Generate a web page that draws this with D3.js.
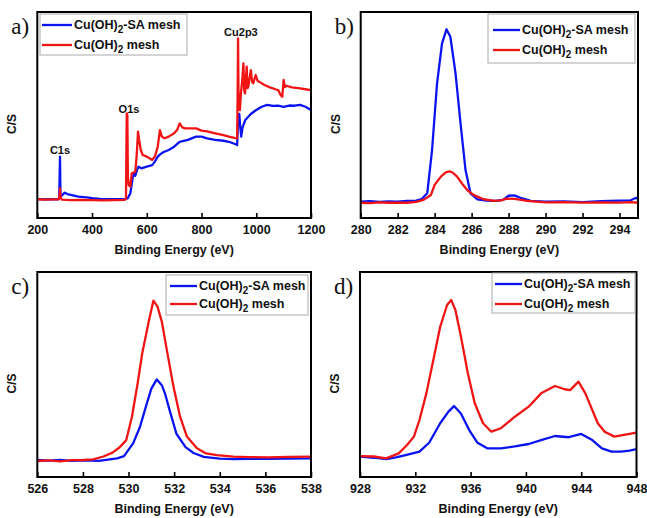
<!DOCTYPE html>
<html>
<head>
<meta charset="utf-8">
<script src="https://cdn.jsdelivr.net/npm/d3@7"></script>
<style>
  body { margin: 0; background: #fff; }
  text { font-family: "Liberation Sans", Arial, sans-serif; font-weight: bold; fill: #111; }
  .letter { font-family: "Liberation Serif", "Times New Roman", serif; font-weight: normal; }
</style>
</head>
<body>
<svg id="chart" width="647" height="518"></svg>
<script>
// ---- data (energy in eV, intensity in arbitrary C/S units 0-100) ----
const seriesNames = ["Cu(OH)", "-SA mesh", " mesh"];

const surveyTicks = [200, 400, 600, 800, 1000, 1200];
const c1sTicks = [280, 282, 284, 286, 288, 290, 292, 294];
const o1sTicks = [526, 528, 530, 532, 534, 536, 538];
const cu2pTicks = [928, 932, 936, 940, 944, 948];

const peakLabels = ["C1s", "O1s", "Cu2p3"];
const peakEnergy = [283, 535, 944];
const peakLevel = [31, 51, 88.5];

const surveySA = [[200,9.3],[220,9.0],[240,9.2],[260,9.0],[275,9.1],[280,9.3],[281.5,20],[283,29.8],[284.5,12],[286,10.4],[290,11.0],[300,12.3],[310,11.6],[330,11.0],[350,10.4],[380,10.0],[400,9.6],[430,9.3],[460,9.2],[490,9.1],[520,9.1],[530,9.5],[540,12.0],[548,19],[552,21.7],[558,20.5],[565,23.5],[570,24.9],[580,24.1],[600,24.9],[620,25.7],[630,27.5],[640,29.8],[650,31],[660,31.9],[680,33],[700,34.6],[720,37],[750,37.9],[780,39.5],[800,39.5],[820,38.7],[850,37.9],[880,37.5],[900,37.0],[925,35.8],[930,35.4],[933,45],[936,49.2],[938,50.5],[941,45],[945,39.5],[950,44],[960,47.6],[970,49],[980,50.5],[1000,52.4],[1020,54.0],[1040,54.9],[1060,54.4],[1080,54.5],[1100,54.0],[1120,54.6],[1140,54.5],[1160,54.9],[1180,54.0],[1200,52.4]];
const surveyMesh = [[200,9.1],[230,8.9],[260,9.0],[278,9.0],[281,11],[283,14.4],[285,10],[290,8.9],[320,8.7],[360,8.8],[400,8.7],[440,8.6],[480,8.7],[520,8.8],[524,9.5],[526,40],[527,50.8],[529,50],[531,20],[534,15.9],[540,15.2],[545,21.7],[552,22.1],[558,22.5],[563,30],[568,41.9],[572,38],[578,33],[585,30.6],[600,29.8],[620,28.2],[630,30],[640,34.6],[648,42.7],[655,39.5],[665,38.7],[680,39.5],[700,41.1],[712,43],[720,45.9],[730,44],[740,43.5],[760,43.5],[780,43.5],[800,42.4],[820,42],[850,41.1],[880,40.2],[900,39.5],[920,38.9],[930,38.7],[932,60],[933.5,87.2],[935,62],[937,57.3],[940,52.4],[945,62],[949,67],[953,75.1],[956,62],[959,60.5],[965,73.5],[968,63],[971,63.8],[980,71.8],[985,66],[989,65.4],[998,69.4],[1005,66.5],[1010,66.2],[1030,64.6],[1050,63.4],[1070,62.5],[1080,62.1],[1090,59.5],[1095,58.9],[1100,67],[1105,63.5],[1110,64.2],[1130,63.4],[1160,62.9],[1180,62.5],[1200,62.1]];

const c1sSA = [[280,7.9],[280.5,8.2],[281,7.8],[281.5,8.1],[282,7.9],[282.5,8.3],[283,8.4],[283.3,9.2],[283.6,12.0],[283.86,33.0],[284.13,65.4],[284.4,84.8],[284.64,91.6],[284.85,88.0],[285.13,70.2],[285.4,46.0],[285.67,23.3],[285.94,12.0],[286.3,9.1],[286.8,8.5],[287.3,8.3],[287.7,8.8],[288,10.8],[288.3,11.0],[288.7,9.6],[289.2,8.3],[290,7.9],[291,8.0],[292,7.7],[293,8.2],[294,8.4],[294.6,8.6],[294.9,9.8],[295,9.2]];
const c1sMesh = [[280,7.4],[280.5,7.2],[281,7.6],[281.5,7.4],[282,7.5],[282.5,7.4],[283,7.8],[283.4,8.8],[283.8,11.2],[284.0,16.1],[284.35,20.2],[284.6,22.1],[284.8,22.6],[284.97,22.1],[285.2,20.2],[285.5,16.5],[285.76,13.6],[286.1,11.2],[286.65,9.1],[287.2,8.3],[287.6,8.6],[287.9,9.4],[288.3,9.3],[288.6,8.9],[289,8.3],[290,7.6],[291,7.7],[292,7.5],[293,7.6],[294,7.5],[294.6,7.7],[295,7.4]];

const o1sSA = [[526,8.3],[526.5,8.0],[527,8.4],[527.5,7.9],[528,8.1],[528.7,7.9],[529.5,9.1],[529.8,10.2],[530.2,16.4],[530.5,24.4],[530.8,35.8],[531.0,43.1],[531.24,47.6],[531.46,44.8],[531.6,40.7],[531.8,32.6],[532.1,21.1],[532.5,14.6],[532.85,11.7],[533.3,9.8],[534,9.0],[534.6,8.7],[535.3,8.9],[536.1,8.8],[537,9.0],[538,9.1]];
const o1sMesh = [[526,7.8],[526.5,8.1],[527,7.6],[527.5,8.2],[528,8.3],[528.45,8.6],[528.9,10.0],[529.3,11.9],[529.6,14.4],[529.9,18.0],[530.15,29.4],[530.4,45.7],[530.6,60.3],[530.9,76.6],[531.09,86.0],[531.27,83.1],[531.46,75.8],[531.68,61.9],[531.97,44.1],[532.26,29.4],[532.56,19.7],[533.0,14.0],[533.4,11.5],[533.87,10.7],[534.6,9.9],[535.3,9.7],[536.1,9.6],[537,9.8],[538,9.9]];

const cu2pSA = [[928,9.9],[929,9.4],[929.9,8.7],[930.6,9.6],[931.3,10.7],[932.3,12.4],[933.0,16.7],[933.8,26.2],[934.4,31.9],[934.8,34.6],[935.3,31.0],[935.9,22.9],[936.5,16.7],[937.2,14.0],[938.2,14.0],[939.2,14.9],[940.2,16.1],[941.1,18.0],[942.1,20.0],[943.1,19.4],[944.0,21.0],[944.8,18.0],[945.5,14.0],[946.2,12.4],[946.9,12.4],[947.5,12.9],[948,13.6]];
const cu2pMesh = [[928,10.2],[929,10.0],[929.9,9.1],[930.8,11.5],[931.4,15.6],[931.9,19.7],[932.3,27.8],[932.8,40.8],[933.3,57.0],[933.8,73.3],[934.3,83.9],[934.6,86.3],[934.9,81.5],[935.3,68.5],[935.8,50.6],[936.3,36.0],[936.9,26.2],[937.5,22.1],[938.2,23.8],[939.2,29.4],[940.2,34.3],[941.1,40.8],[942.1,44.4],[942.8,42.8],[943.2,42.4],[943.8,46.5],[944.3,40.8],[944.8,32.7],[945.2,26.2],[945.7,22.1],[946.4,19.7],[947.1,20.5],[948,21.6]];

const blue = "#0a14f0";
const red = "#f01414";

const panels = [
  { letter: "a)", left: 37.3, right: 311, top: 12, bottom: 218, domain: [200, 1200], ticks: surveyTicks,
    sa: surveySA, mesh: surveyMesh, legend: { x: 40, y: 14, w: 147, h: 41, lx: 42, lw: 30, gap: 20 } },
  { letter: "b)", left: 360.7, right: 638, top: 12, bottom: 218, domain: [280, 295], ticks: c1sTicks,
    sa: c1sSA, mesh: c1sMesh, legend: { x: 488, y: 14, w: 147, h: 49, lx: 493, lw: 27, gap: 20, pad: 16 } },
  { letter: "c)", left: 37.3, right: 311, top: 272, bottom: 477, domain: [526, 538], ticks: o1sTicks,
    sa: o1sSA, mesh: o1sMesh, legend: { x: 166, y: 275, w: 142, h: 40, lx: 170, lw: 27, gap: 18 } },
  { letter: "d)", left: 360, right: 636.5, top: 272, bottom: 477, domain: [928, 948], ticks: cu2pTicks,
    sa: cu2pSA, mesh: cu2pMesh, legend: { x: 492, y: 273, w: 143, h: 40, lx: 495, lw: 27, gap: 20 } }
];

const svg = d3.select("#chart");

panels.forEach((p, i) => {
  const x = d3.scaleLinear().domain(p.domain).range([p.left, p.right]);
  const y = d3.scaleLinear().domain([0, 100]).range([p.bottom, p.top]);
  const g = svg.append("g");

  const clipId = "clip" + i;
  g.append("clipPath").attr("id", clipId)
    .append("rect")
    .attr("x", p.left).attr("y", p.top)
    .attr("width", p.right - p.left).attr("height", p.bottom - p.top);

  const line = d3.line().x(d => x(d[0])).y(d => y(d[1]));

  // Draw spectra (blue first, red on top)
  [[p.sa, blue], [p.mesh, red]].forEach(([data, color]) => {
    g.append("path")
      .datum(data)
      .attr("clip-path", `url(#${clipId})`)
      .attr("d", line)
      .attr("fill", "none")
      .attr("stroke", color)
      .attr("stroke-width", 2.3)
      .attr("stroke-linejoin", "round");
  });

  // Bottom axis with inward ticks
  const axis = g.append("g")
    .attr("transform", `translate(0,${p.bottom})`)
    .call(d3.axisBottom(x).tickValues(p.ticks).tickFormat(d3.format("d"))
      .tickSizeInner(-5).tickSizeOuter(0).tickPadding(7));
  axis.select(".domain").remove();
  axis.selectAll(".tick line").attr("stroke", "#000").attr("stroke-width", 1.6);
  axis.selectAll(".tick text")
    .style("font-family", '"Liberation Sans", Arial, sans-serif')
    .style("font-weight", "bold")
    .style("font-size", "12.5px")
    .attr("fill", "#111");

  // Frame
  g.append("rect")
    .attr("x", p.left).attr("y", p.top)
    .attr("width", p.right - p.left).attr("height", p.bottom - p.top)
    .attr("fill", "none").attr("stroke", "#000").attr("stroke-width", 2);

  // Axis titles
  g.append("text")
    .attr("x", (p.left + p.right) / 2).attr("y", p.bottom + 36)
    .attr("text-anchor", "middle").style("font-size", "12.5px")
    .text("Binding Energy (eV)");

  g.append("text")
    .attr("transform", `translate(${p.left - 21},${(p.top + p.bottom) / 2 + 9}) rotate(-90)`)
    .attr("text-anchor", "middle").style("font-size", "12px")
    .text("C/S");

  // Panel letter
  g.append("text")
    .attr("class", "letter")
    .attr("x", p.left - 26).attr("y", p.top + 22)
    .style("font-size", "23px")
    .text(p.letter);

  // Legend
  const L = p.legend;
  const lg = g.append("g");
  lg.append("rect")
    .attr("x", L.x).attr("y", L.y).attr("width", L.w).attr("height", L.h)
    .attr("fill", "#fff").attr("stroke", "#aaa").attr("stroke-width", 1);
  const firstY = L.y + (L.pad || 11);
  [[blue, "-SA mesh"], [red, " mesh"]].forEach(([color, tail], k) => {
    const ly = firstY + k * L.gap;
    lg.append("line")
      .attr("x1", L.lx).attr("x2", L.lx + L.lw)
      .attr("y1", ly).attr("y2", ly)
      .attr("stroke", color).attr("stroke-width", 2.3);
    const t = lg.append("text")
      .attr("x", L.lx + L.lw + 2).attr("y", ly + 4)
      .style("font-size", "12.5px");
    t.append("tspan").text(seriesNames[0]);
    t.append("tspan").attr("dy", 4).style("font-size", "10px").text("2");
    t.append("tspan").attr("dy", -4).text(tail);
  });

  // Peak labels on the survey
  if (i === 0) {
    peakLabels.forEach((lab, k) => {
      g.append("text")
        .attr("x", x(peakEnergy[k])).attr("y", y(peakLevel[k]))
        .attr("text-anchor", "middle").style("font-size", "11px")
        .text(lab);
    });
  }
});
</script>
</body>
</html>
